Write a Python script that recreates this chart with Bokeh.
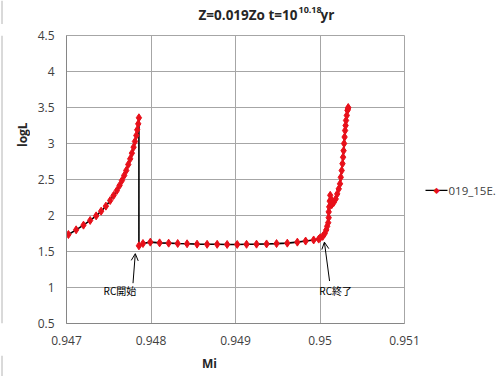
from bokeh.plotting import figure
from bokeh.layouts import column, row
from bokeh.models import Label, Arrow, OpenHead, FixedTicker, Range1d, Span, BoxAnnotation
from bokeh.embed import file_html
from bokeh.resources import INLINE

# ---- data ----
mi_rise = [0.947023, 0.947114, 0.947201, 0.947280, 0.947351, 0.947410, 0.947466,
           0.947517, 0.947557, 0.947596, 0.947628, 0.947656, 0.947683, 0.947707,
           0.947731, 0.947754, 0.947774, 0.947794, 0.947810, 0.947826, 0.947837,
           0.947849, 0.947857]
logl_rise = [1.736, 1.801, 1.866, 1.931, 1.995, 2.060, 2.130, 2.208, 2.278, 2.347,
             2.417, 2.486, 2.556, 2.625, 2.708, 2.787, 2.866, 2.949, 3.028, 3.111,
             3.190, 3.273, 3.357]
mi_flat = [0.947857, 0.947905, 0.947992, 0.948102, 0.948209, 0.948316, 0.948427,
           0.948545, 0.948664, 0.948783, 0.948901, 0.949020, 0.949131, 0.949249,
           0.949368, 0.949486, 0.949613, 0.949732, 0.949830, 0.949925, 0.949985]
logl_flat = [1.579, 1.611, 1.630, 1.620, 1.616, 1.611, 1.607, 1.602, 1.600, 1.600,
             1.598, 1.598, 1.600, 1.602, 1.605, 1.610, 1.616, 1.630, 1.645, 1.660, 1.672]
mi_end = [0.950002, 0.950032, 0.950056, 0.950074, 0.950085, 0.950097, 0.950103,
          0.950103, 0.950109, 0.950115, 0.950121, 0.950133, 0.950139, 0.950162,
          0.950186, 0.950204, 0.950222, 0.950237, 0.950246, 0.950257, 0.950266,
          0.950273, 0.950279, 0.950285, 0.950291, 0.950297, 0.950303, 0.950308,
          0.950317, 0.950325, 0.950334, 0.950331]
logl_end = [1.69, 1.71, 1.75, 1.80, 1.85, 1.90, 1.97, 2.05, 2.12, 2.20, 2.28, 2.22,
            2.15, 2.18, 2.23, 2.30, 2.37, 2.44, 2.53, 2.625, 2.72, 2.81, 2.90, 3.00,
            3.09, 3.18, 3.25, 3.32, 3.39, 3.46, 3.50, 3.48]

mi = mi_rise + mi_flat + mi_end
logl = logl_rise + logl_flat + logl_end

x_ticks = [0.947, 0.948, 0.949, 0.950, 0.951]
x_tick_labels = ["0.947", "0.948", "0.949", "0.95", "0.951"]
y_ticks = [0.5, 1.0, 1.5, 2.0, 2.5, 3.0, 3.5, 4.0, 4.5]
y_tick_labels = ["0.5", "1", "1.5", "2", "2.5", "3", "3.5", "4", "4.5"]

series_name = "019_15E."
title_main = "Z=0.019Zo t=10"
title_sup = "10.18"
title_tail = "yr"
x_label = "Mi"
y_label = "logL"
note_start = "RC開始"
note_end = "RC終了"

# annotation anchors (data units of the main chart)
arrow_start = dict(x_start=0.947787, y_start=1.06, x_end=0.947814, y_end=1.47)
arrow_end = dict(x_start=0.950113, y_start=1.09, x_end=0.950052, y_end=1.63)
note_start_xy = (0.947632, 0.958)
note_end_xy = (0.950186, 0.958)

GRID = "#a6a6a6"
BORDER = "#b4b4b4"
FONT = "Open Sans"
CJK = "Noto Sans CJK JP"
TXT = "#262626"
RED = "#e8101a"


def strip(w, h):
    """An empty pixel-scaled panel used to hold texts outside the chart frame."""
    f = figure(width=w, height=h, output_backend="svg", toolbar_location=None,
               x_range=Range1d(0, w), y_range=Range1d(0, h),
               x_axis_type=None, y_axis_type=None,
               min_border=0, min_border_left=0, min_border_right=0,
               min_border_top=0, min_border_bottom=0)
    f.outline_line_color = None
    f.background_fill_color = "white"
    f.border_fill_color = "white"
    return f


# ---- main chart ----
p = figure(width=390, height=331, output_backend="svg", toolbar_location=None,
           x_range=Range1d(0.947, 0.951), y_range=Range1d(0.5, 4.5),
           min_border_left=36, min_border_right=16, min_border_top=11,
           min_border_bottom=32)
p.background_fill_color = "white"
p.border_fill_color = "white"
p.outline_line_color = GRID
p.outline_line_width = 1

for ax in (p.xaxis[0], p.yaxis[0]):
    ax.axis_line_color = "#868686"
    ax.major_tick_out = 0
    ax.major_tick_in = 0
    ax.minor_tick_out = 0
    ax.minor_tick_in = 0
    ax.major_label_text_font = FONT
    ax.major_label_text_font_size = "12px"
    ax.major_label_text_color = "#404040"
    ax.major_label_standoff = 12

p.xaxis.ticker = FixedTicker(ticks=x_ticks)
p.xaxis.major_label_overrides = {t: s for t, s in zip(x_ticks, x_tick_labels)}
p.yaxis.ticker = FixedTicker(ticks=y_ticks)
p.yaxis.major_label_overrides = {t: s for t, s in zip(y_ticks, y_tick_labels)}

p.xgrid.grid_line_color = GRID
p.ygrid.grid_line_color = GRID
p.xgrid.ticker = FixedTicker(ticks=x_ticks)
p.ygrid.ticker = FixedTicker(ticks=y_ticks)

p.line(mi, logl, line_color="black", line_width=1.6)
p.scatter(mi, logl, marker="diamond", size=8, fill_color=RED, line_color=RED)

p.add_layout(Arrow(end=OpenHead(size=7, line_width=1, line_color="black"),
                   line_color="black", line_width=1, **arrow_start))
p.add_layout(Arrow(end=OpenHead(size=7, line_width=1, line_color="black"),
                   line_color="black", line_width=1, **arrow_end))
p.add_layout(Label(x=note_start_xy[0], y=note_start_xy[1], text=note_start,
                   text_align="center", text_baseline="middle", text_font=CJK,
                   text_font_size="10px", text_color="black"))
p.add_layout(Label(x=note_end_xy[0], y=note_end_xy[1], text=note_end,
                   text_align="center", text_baseline="middle", text_font=CJK,
                   text_font_size="10px", text_color="black"))

# ---- title strip (top) ----
head = strip(500, 24)
head.add_layout(Label(x=297, y=10, text=title_main, text_align="right",
                      text_baseline="middle", text_font=FONT, text_font_style="bold",
                      text_font_size="13.5px", text_color=TXT))
head.add_layout(Label(x=298, y=15, text=title_sup, text_align="left",
                      text_baseline="middle", text_font=FONT, text_font_style="bold",
                      text_font_size="9px", text_color=TXT))
head.add_layout(Label(x=320, y=10, text=title_tail, text_align="left",
                      text_baseline="middle", text_font=FONT, text_font_style="bold",
                      text_font_size="13.5px", text_color=TXT))
head.add_layout(Span(location=1.5, dimension="height", line_color=BORDER, line_width=1))

# ---- left strip with the y label ----
left = strip(30, 331)
left.add_layout(Label(x=22, y=217, text=y_label, angle=1.5708, text_align="center",
                      text_baseline="middle", text_font=FONT, text_font_style="bold",
                      text_font_size="12px", text_color=TXT))
left.add_layout(Span(location=1.5, dimension="height", line_color=BORDER, line_width=1))

# ---- right strip with the legend key ----
right = strip(80, 331)
right.add_layout(BoxAnnotation(left=5, right=27, bottom=152.2, top=153.8,
                               fill_color="black", fill_alpha=1, line_color=None))
right.add_layout(Label(x=16, y=153, text="◆", text_align="center", text_baseline="middle",
                       text_font="DejaVu Sans", text_font_size="8px", text_color=RED))
right.add_layout(Label(x=28, y=153, text=series_name, text_align="left",
                       text_baseline="middle", text_font=FONT,
                       text_font_size="11.5px", text_color="#404040"))

# ---- bottom strip with the x label ----
foot = strip(500, 21)
foot.add_layout(Label(x=209, y=13, text=x_label, text_align="center",
                      text_baseline="middle", text_font=FONT, text_font_style="bold",
                      text_font_size="12px", text_color=TXT))
foot.add_layout(Span(location=1.5, dimension="height", line_color=BORDER, line_width=1))

layout = column(head, row(left, p, right, spacing=0), foot, spacing=0)

open("out.html", "w").write(file_html(layout, INLINE))
